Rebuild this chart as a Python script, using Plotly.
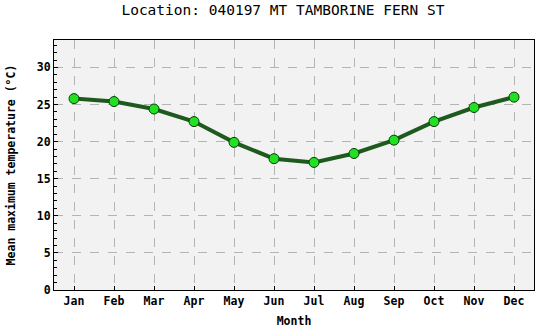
import plotly.graph_objects as go

months = ["Jan", "Feb", "Mar", "Apr", "May", "Jun", "Jul", "Aug", "Sep", "Oct", "Nov", "Dec"]
temps = [25.8, 25.4, 24.4, 22.7, 19.9, 17.7, 17.2, 18.4, 20.2, 22.7, 24.6, 26.0]
y_ticks = [0, 5, 10, 15, 20, 25, 30]

FONT = "DejaVu Sans Mono"

fig = go.Figure()
fig.add_trace(go.Scatter(
    x=list(range(len(months))), y=temps, mode="lines+markers",
    line=dict(color="#1e5a1e", width=4),
    marker=dict(size=10, color="#22e022", line=dict(color="#0a3a0a", width=1)),
))

fig.update_layout(
    width=541, height=333,
    margin=dict(l=54, r=7, t=40, b=43),
    paper_bgcolor="white", plot_bgcolor="#f2f2f2",
    showlegend=False,
    title=dict(text="Location: 040197 MT TAMBORINE FERN ST",
               x=0.523, xanchor="center", y=0.985, yanchor="top",
               font=dict(family=FONT, size=14.5, color="black")),
    font=dict(family=FONT, size=11.5, color="black"),
)
fig.update_xaxes(
    range=[-0.5, 11.5], tickmode="array", tickvals=list(range(12)),
    ticktext=[f"<b>{m}</b>" for m in months],
    showgrid=True, gridcolor="#b4b4b4", griddash="dash", gridwidth=1,
    showline=True, linecolor="black", linewidth=1, mirror=True,
    ticks="inside", ticklen=4, tickcolor="black", zeroline=False,
    title=dict(text="<b>Month</b>", font=dict(family=FONT, size=11.5), standoff=10),
)
fig.update_yaxes(
    range=[0, 33.7], tickmode="array", tickvals=y_ticks,
    ticktext=[f"<b>{v}</b>" for v in y_ticks],
    showgrid=True, gridcolor="#b4b4b4", griddash="dash", gridwidth=1,
    showline=True, linecolor="black", linewidth=1, mirror=True,
    ticks="inside", ticklen=4, tickcolor="black", zeroline=False,
    minor=dict(dtick=1, ticks="inside", ticklen=3, tickcolor="black", showgrid=False),
    title=dict(text="<b>Mean maximum temperature (°C)</b>", font=dict(family=FONT, size=11.5), standoff=18),
)

fig.write_html("out.html", config={"displayModeBar": False},
               post_script="document.body.style.margin='0';document.body.style.padding='0';")
